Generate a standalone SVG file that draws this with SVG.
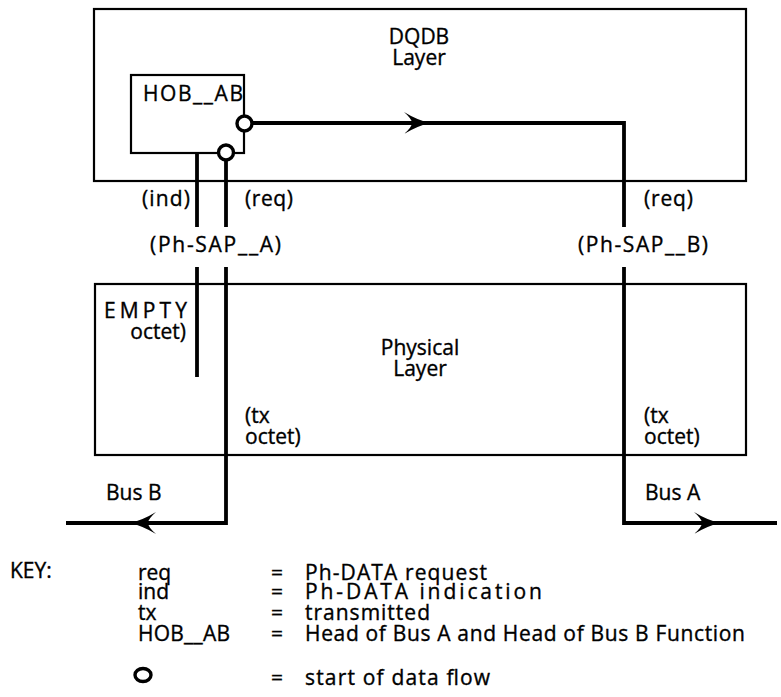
<svg xmlns="http://www.w3.org/2000/svg" width="781" height="697" viewBox="0 0 781 697">
<defs>
<style>
text{font-family:"Open Sans","Noto Sans","DejaVu Sans",sans-serif;font-size:21px;fill:#000;stroke:#000;stroke-width:0.35}
.k{font-size:21px}
.box{fill:none;stroke:#000;stroke-width:2.2}
.flow{fill:none;stroke:#000;stroke-width:3.8}
.start{fill:#fff;stroke:#000;stroke-width:3.4}
</style>
<marker id="arr" markerUnits="userSpaceOnUse" orient="auto" viewBox="-26 -12 28 24" refX="0" refY="0" markerWidth="28" markerHeight="24">
<path d="M1,0 Q-12,-3 -25,-11 Q-17,-4 -17,0 Q-17,4 -25,11 Q-12,3 1,0 Z" fill="#000"/>
</marker>
</defs>
<rect width="781" height="697" fill="#fff"/>

<g id="dqdb-layer">
<rect class="box" x="94" y="9" width="652" height="172"/>
<text x="419" y="44" text-anchor="middle">DQDB</text>
<text x="419" y="65" text-anchor="middle">Layer</text>
</g>

<g id="physical-layer">
<rect class="box" x="95" y="284" width="651" height="171"/>
<text x="420" y="355" text-anchor="middle">Physical</text>
<text x="420" y="376" text-anchor="middle">Layer</text>
</g>

<g id="hob-ab">
<rect class="box" x="131" y="75" width="113" height="78" fill="#fff"/>
<text x="143" y="101" textLength="100" lengthAdjust="spacing">HOB__AB</text>
</g>

<g id="connectors">
<path class="flow" d="M253,123 H429" marker-end="url(#arr)"/>
<path class="flow" d="M427,123 H624 V227"/>
<path class="flow" d="M624,267 V523 H719" marker-end="url(#arr)"/>
<path class="flow" d="M717,523 H777"/>
<path class="flow" d="M197,153 V227"/>
<path class="flow" d="M197,267 V377"/>
<path class="flow" d="M226,161 V227"/>
<path class="flow" d="M226,267 V523 H131" marker-end="url(#arr)"/>
<path class="flow" d="M133,523 H66"/>
<circle class="start" cx="244.5" cy="123.5" r="7.5"/>
<circle class="start" cx="226" cy="152.5" r="7.5"/>
</g>

<g id="labels">
<text x="142" y="206" textLength="48" lengthAdjust="spacing">(ind)</text>
<text x="245" y="206" textLength="48" lengthAdjust="spacing">(req)</text>
<text x="644" y="206" textLength="49" lengthAdjust="spacing">(req)</text>
<text x="150" y="252" textLength="131" lengthAdjust="spacing">(Ph-SAP__A)</text>
<text x="578" y="252" textLength="130" lengthAdjust="spacing">(Ph-SAP__B)</text>
<text x="104" y="318" textLength="83" lengthAdjust="spacing">EMPTY</text>
<text x="186" y="339" text-anchor="end">octet)</text>
<text x="245" y="423">(tx</text>
<text x="245" y="444">octet)</text>
<text x="644" y="423">(tx</text>
<text x="644" y="444">octet)</text>
<text x="106" y="500">Bus B</text>
<text x="645" y="500">Bus A</text>
</g>

<g id="key">
<text class="k" x="10" y="578">KEY:</text>
<text class="k" x="138" y="580">req</text>
<text class="k" x="138" y="599">ind</text>
<text class="k" x="138" y="620">tx</text>
<text class="k" x="138" y="641" textLength="92" lengthAdjust="spacing">HOB__AB</text>
<ellipse class="start" cx="143" cy="675" rx="8" ry="6.5" fill="none"/>
<text class="k" x="271" y="580">=</text>
<text class="k" x="271" y="599">=</text>
<text class="k" x="271" y="620">=</text>
<text class="k" x="271" y="641">=</text>
<text class="k" x="271" y="685">=</text>
<text class="k" x="305" y="580" textLength="182" lengthAdjust="spacing">Ph-DATA request</text>
<text class="k" x="305" y="599" textLength="237" lengthAdjust="spacing">Ph-DATA indication</text>
<text class="k" x="305" y="620" textLength="125" lengthAdjust="spacing">transmitted</text>
<text class="k" x="305" y="641" textLength="440" lengthAdjust="spacing">Head of Bus A and Head of Bus B Function</text>
<text class="k" x="305" y="685" textLength="185" lengthAdjust="spacing">start of data flow</text>
</g>
</svg>
